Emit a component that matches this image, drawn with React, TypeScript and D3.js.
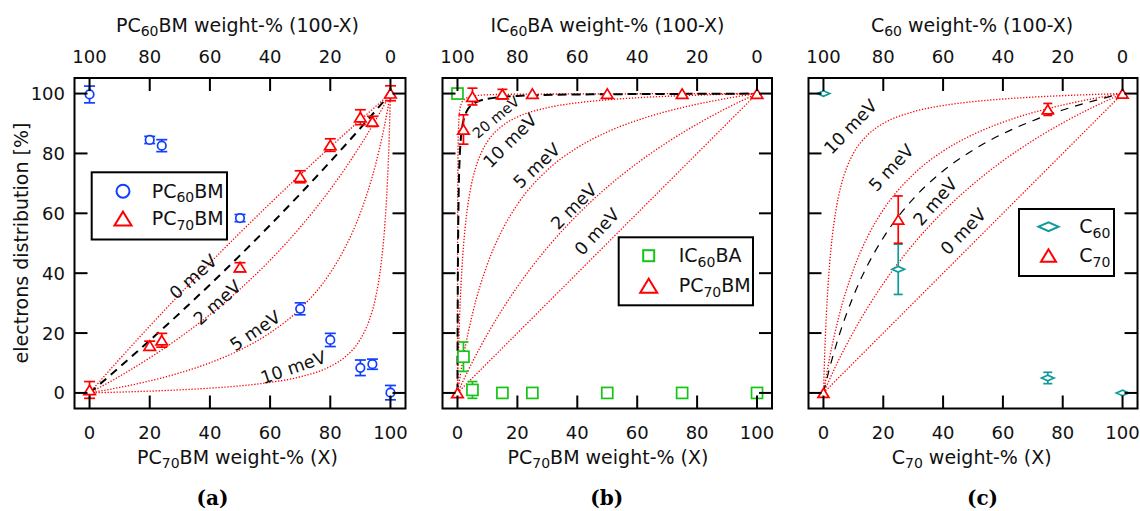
import React from 'react';
import * as d3 from 'd3';

// ---------- axis ticks ----------
const TICKS = [0, 20, 40, 60, 80, 100];
const BOTTOM_TICK_LABELS = ['0', '20', '40', '60', '80', '100'];
const TOP_TICK_LABELS = ['100', '80', '60', '40', '20', '0'];
const Y_TICK_LABELS = ['0', '20', '40', '60', '80', '100'];

// ---------- panel (a): PC60BM / PC70BM ----------
const A_X = [0, 20, 24, 50, 70, 80, 90, 94, 100];
const A_PC60_Y = [99.7, 84.5, 82.6, 58.4, 28.1, 17.7, 8.4, 9.6, 0.1];
const A_PC60_ERR = [2.8, 1.2, 2.0, 1.2, 2.0, 2.2, 2.6, 1.7, 2.4];
const A_PC70_Y = [1.0, 15.8, 17.6, 42.0, 72.2, 82.8, 92.1, 90.7, 100.1];
const A_PC70_ERR = [2.8, 1.5, 2.3, 1.5, 2.0, 2.1, 2.5, 1.7, 2.5];

const A_FIT: [number, number][] = [[0, 0], [10, 8.63], [20, 17.53], [30, 26.7], [40, 36.17], [50, 45.95], [60, 56.04], [70, 66.48], [80, 77.27], [90, 88.44], [100, 100]];
const A_0MEV: [number, number][] = [[0, 0], [10, 11.33], [20, 22.33], [30, 33.01], [40, 43.4], [50, 53.49], [60, 63.3], [70, 72.85], [80, 82.14], [90, 91.19], [100, 100]];
const A_2MEV: [number, number][] = [[0, 0], [10, 5.57], [20, 11.72], [30, 18.54], [40, 26.14], [50, 34.68], [60, 44.34], [70, 55.34], [80, 67.99], [85, 75.06], [90, 82.7], [95, 90.98], [100, 100]];
const A_5MEV: [number, number][] = [[0, 0], [10, 1.83], [20, 4.02], [30, 6.7], [40, 10.04], [50, 14.35], [60, 20.08], [70, 28.1], [80, 40.12], [85, 48.7], [90, 60.12], [95, 76.09], [98, 89.14], [100, 100]];
const A_10MEV: [number, number][] = [[0, 0], [10, 0.27], [20, 0.6], [30, 1.03], [40, 1.59], [50, 2.37], [60, 3.52], [70, 5.37], [80, 8.86], [85, 12.1], [90, 17.95], [93, 24.4], [95, 31.59], [97, 44.0], [98, 54.36], [99, 70.63], [99.5, 82.86], [100, 100]];

// ---------- panel (b): IC60BA / PC70BM ----------
const B_X = [0, 2, 5, 15, 25, 50, 75, 100];
const B_ICBA_Y = [100, 12.1, 1.0, 0, 0, 0, 0, 0];
const B_ICBA_ERR = [0, 4.9, 2.8, 0, 0, 0, 0, 0];
const B_PC70_Y = [0, 88.0, 99.0, 99.8, 100, 100, 100, 100];
const B_PC70_ERR = [0, 4.9, 2.8, 1.6, 0, 0, 0, 0];

const B_FIT: [number, number][] = [[0, 0], [0.05, 20.01], [0.1, 33.36], [0.2, 50.05], [0.4, 66.76], [0.7, 77.9], [1, 83.47], [1.5, 88.39], [2, 91.07], [3, 93.93], [5, 96.34], [10, 98.23], [20, 99.21], [40, 99.7], [70, 99.87], [100, 100]];
const B_0MEV: [number, number][] = [[0, 0], [50, 50], [100, 100]];
const B_2MEV: [number, number][] = [[0, 0], [5, 10.38], [10, 19.64], [20, 35.48], [30, 48.53], [40, 59.46], [50, 68.75], [60, 76.74], [70, 83.7], [80, 89.8], [90, 95.19], [100, 100]];
const B_5MEV: [number, number][] = [[0, 0], [2, 12.19], [5, 26.36], [10, 43.04], [15, 54.55], [20, 62.96], [30, 74.45], [40, 81.93], [50, 87.18], [60, 91.07], [70, 94.07], [80, 96.45], [90, 98.39], [100, 100]];
const B_10MEV: [number, number][] = [[0, 0], [0.25, 10.54], [0.5, 19.11], [1, 32.19], [1.5, 41.72], [2, 48.96], [3, 59.24], [4, 66.2], [6, 75.0], [8, 80.34], [10, 83.93], [15, 89.24], [20, 92.16], [30, 95.27], [40, 96.91], [50, 97.92], [60, 98.6], [70, 99.1], [80, 99.47], [90, 99.76], [100, 100]];
const B_20MEV: [number, number][] = [[0, 0], [0.01, 18.03], [0.02, 30.56], [0.05, 52.39], [0.1, 68.77], [0.2, 81.51], [0.5, 91.7], [1, 95.69], [2, 97.82], [5, 99.14], [10, 99.59], [20, 99.79], [50, 99.91], [100, 100]];

// ---------- panel (c): C60 / C70 ----------
const C_X = [0, 25, 75, 100];
const C_C60_Y = [100, 41.3, 5.0, 0];
const C_C60_ERR = [0, 8.4, 1.9, 0];
const C_C70_Y = [0, 57.9, 94.7, 100];
const C_C70_ERR = [0, 7.9, 2.0, 0];

const C_FIT: [number, number][] = [[0, 0], [2, 8.07], [5, 18.45], [10, 32.33], [15, 43.14], [20, 51.81], [30, 64.82], [40, 74.14], [50, 81.13], [60, 86.58], [70, 90.94], [80, 94.51], [90, 97.48], [100, 100]];
const C_0MEV: [number, number][] = [[0, 0], [50, 50], [100, 100]];
const C_2MEV: [number, number][] = [[0, 0], [5, 10.8], [10, 20.35], [20, 36.51], [30, 49.64], [40, 60.53], [50, 69.7], [60, 77.53], [70, 84.29], [80, 90.2], [90, 95.39], [100, 100]];
const C_5MEV: [number, number][] = [[0, 0], [2, 11.39], [5, 24.9], [10, 41.18], [15, 52.65], [20, 61.17], [30, 72.97], [40, 80.77], [50, 86.3], [60, 90.43], [70, 93.63], [80, 96.18], [90, 98.27], [100, 100]];
const C_10MEV: [number, number][] = [[0, 0], [0.5, 15.32], [1, 26.67], [2, 42.35], [3, 52.68], [4, 60.0], [6, 69.68], [8, 75.79], [10, 80.0], [15, 86.4], [20, 90.0], [30, 93.91], [40, 96.0], [50, 97.3], [60, 98.18], [70, 98.82], [80, 99.31], [90, 99.69], [100, 100]];

// ---------- styles / layout ----------
const FONT = "'DejaVu Sans', Verdana, sans-serif";
const BLUE = '#0f3fff';
const RED = '#ff0000';
const GREEN = '#16c416';
const TEAL = '#0e9b9b';

const TOP = 78;
const BOTTOM = 408.5;
const TICK_LEN = 13;

type Series = { x: number[]; y: number[]; err: number[]; color: string; marker: string; size: number; cap: number };
type LabelSpec = { text: string; x: number; y: number; rot: number; fs?: number };
type Title = { base: string; sub: string; rest: string; cx: number };
type LegendRow = { marker: string; color: string; size: number; base: string; sub: string; rest: string };

const PANELS = [
  {
    left: 74.5, right: 405.5, yLabels: true,
    top: { base: 'PC', sub: '60', rest: 'BM weight-% (100-X)', cx: 237.5 } as Title,
    bottom: { base: 'PC', sub: '70', rest: 'BM weight-% (X)', cx: 237.5 } as Title,
    caption: '(a)', captionX: 212.5,
    fit: A_FIT, fitW: 2, fitDash: '8,6',
    models: [A_0MEV, A_2MEV, A_5MEV, A_10MEV],
    series: [
      { x: A_X, y: A_PC60_Y, err: A_PC60_ERR, color: BLUE, marker: 'circle', size: 8.5, cap: 11 },
      { x: A_X, y: A_PC70_Y, err: A_PC70_ERR, color: RED, marker: 'triangle', size: 11.5, cap: 11 },
    ] as Series[],
    labels: [
      { text: '0 meV', x: 34.4, y: 38.8, rot: -42 },
      { text: '2 meV', x: 42.4, y: 30.2, rot: -42 },
      { text: '5 meV', x: 55.0, y: 20.8, rot: -34 },
      { text: '10 meV', x: 67.7, y: 8.6, rot: -19 },
    ] as LabelSpec[],
    legend: {
      x0: 91.7, y0: 172.3, x1: 227, y1: 239.5, mx: 123, tx: 151.7,
      rows: [
        { marker: 'circle', color: BLUE, size: 13, base: 'PC', sub: '60', rest: 'BM' },
        { marker: 'triangle', color: RED, size: 17, base: 'PC', sub: '70', rest: 'BM' },
      ] as LegendRow[],
      rowY: [191.2, 218.6],
    },
  },
  {
    left: 442.5, right: 772, yLabels: false,
    top: { base: 'IC', sub: '60', rest: 'BA weight-% (100-X)', cx: 607.5 } as Title,
    bottom: { base: 'PC', sub: '70', rest: 'BM weight-% (X)', cx: 608 } as Title,
    caption: '(b)', captionX: 606.7,
    fit: B_FIT, fitW: 2, fitDash: '9,5',
    models: [B_0MEV, B_2MEV, B_5MEV, B_10MEV, B_20MEV],
    series: [
      { x: B_X, y: B_ICBA_Y, err: B_ICBA_ERR, color: GREEN, marker: 'square', size: 11, cap: 10 },
      { x: B_X, y: B_PC70_Y, err: B_PC70_ERR, color: RED, marker: 'triangle', size: 11.5, cap: 10 },
    ] as Series[],
    labels: [
      { text: '20 meV', x: 12.8, y: 92.1, rot: -40, fs: 14.5 },
      { text: '10 meV', x: 17.5, y: 84.3, rot: -45 },
      { text: '5 meV', x: 26.4, y: 75.9, rot: -43 },
      { text: '2 meV', x: 38.8, y: 62.3, rot: -45 },
      { text: '0 meV', x: 46.5, y: 53.9, rot: -47 },
    ] as LabelSpec[],
    legend: {
      x0: 618.7, y0: 237.3, x1: 753, y1: 305.3, mx: 648.7, tx: 678.7,
      rows: [
        { marker: 'square', color: GREEN, size: 11, base: 'IC', sub: '60', rest: 'BA' },
        { marker: 'triangle', color: RED, size: 17, base: 'PC', sub: '70', rest: 'BM' },
      ] as LegendRow[],
      rowY: [255.7, 285.7],
    },
  },
  {
    left: 808.5, right: 1137.5, yLabels: false,
    top: { base: 'C', sub: '60', rest: ' weight-% (100-X)', cx: 972 } as Title,
    bottom: { base: 'C', sub: '70', rest: ' weight-% (X)', cx: 971.7 } as Title,
    caption: '(c)', captionX: 982.5,
    fit: C_FIT, fitW: 1.2, fitDash: '8,7',
    models: [C_0MEV, C_2MEV, C_5MEV, C_10MEV],
    series: [
      { x: C_X, y: C_C60_Y, err: C_C60_ERR, color: TEAL, marker: 'diamond', size: 12.5, cap: 9 },
      { x: C_X, y: C_C70_Y, err: C_C70_ERR, color: RED, marker: 'triangle', size: 11, cap: 9 },
    ] as Series[],
    labels: [
      { text: '10 meV', x: 9.0, y: 89.0, rot: -46 },
      { text: '5 meV', x: 22.6, y: 75.3, rot: -47 },
      { text: '2 meV', x: 37.3, y: 63.9, rot: -49 },
      { text: '0 meV', x: 46.7, y: 54.0, rot: -46 },
    ] as LabelSpec[],
    legend: {
      x0: 1019, y0: 209, x1: 1114, y1: 276, mx: 1048.5, tx: 1079.3,
      rows: [
        { marker: 'diamond', color: TEAL, size: 20, base: 'C', sub: '60', rest: '' },
        { marker: 'triangle', color: RED, size: 15, base: 'C', sub: '70', rest: '' },
      ] as LegendRow[],
      rowY: [226.7, 255.5],
    },
  },
];

function Marker({ type, cx, cy, size, color, sw = 1.7 }: { type: string; cx: number; cy: number; size: number; color: string; sw?: number }) {
  const common = { fill: 'white', stroke: color, strokeWidth: sw };
  if (type === 'circle') return <circle cx={cx} cy={cy} r={size / 2} {...common} />;
  if (type === 'square') return <rect x={cx - size / 2} y={cy - size / 2} width={size} height={size} {...common} />;
  if (type === 'diamond') {
    const w = size / 2, h = size * 0.22;
    return <polygon points={`${cx - w},${cy} ${cx},${cy - h} ${cx + w},${cy} ${cx},${cy + h}`} {...common} />;
  }
  const w = size / 2, h = size * 0.41;
  return <polygon points={`${cx},${cy - h} ${cx - w},${cy + h} ${cx + w},${cy + h}`} {...common} strokeLinejoin="miter" />;
}

function SubText({ x, y, base, sub, rest, fs, anchor = 'middle' }: { x: number; y: number; base: string; sub: string; rest: string; fs: number; anchor?: string }) {
  const subFs = Math.round(fs * 0.72);
  const dy = fs * 0.24;
  return (
    <text x={x} y={y} fontFamily={FONT} fontSize={fs} textAnchor={anchor as any} fill="#111">
      <tspan>{base}</tspan>
      <tspan fontSize={subFs} dy={dy}>{sub}</tspan>
      <tspan dy={-dy}>{rest}</tspan>
    </text>
  );
}

function Panel({ p }: { p: (typeof PANELS)[number] }) {
  const x = d3.scaleLinear().domain([-5, 105]).range([p.left, p.right]);
  const y = d3.scaleLinear().domain([-5.2, 105.2]).range([BOTTOM, TOP]);
  const line = d3.line<[number, number]>().x(d => x(d[0])).y(d => y(d[1])).curve(d3.curveMonotoneX);
  const tickStyle = { stroke: '#000', strokeWidth: 2 };
  return (
    <g>
      {p.models.map((m, i) => (
        <path key={'m' + i} d={line(m) || ''} fill="none" stroke={RED} strokeWidth={1.3} strokeDasharray="1.3,1.7" />
      ))}
      <path d={line(p.fit) || ''} fill="none" stroke="#000" strokeWidth={p.fitW} strokeDasharray={p.fitDash} />
      {p.labels.map((l, i) => (
        <text key={'l' + i} transform={`translate(${x(l.x)},${y(l.y)}) rotate(${l.rot})`} textAnchor="middle" dy="0.36em"
          fontFamily={FONT} fontSize={l.fs || 17.5} fill="#111">{l.text}</text>
      ))}
      {p.series.map((s, si) => (
        <g key={'s' + si}>
          {s.x.map((xv, i) => s.err[i] > 0 ? (
            <g key={'e' + i} stroke={s.color} strokeWidth={1.7}>
              <line x1={x(xv)} x2={x(xv)} y1={y(s.y[i] - s.err[i])} y2={y(s.y[i] + s.err[i])} />
              <line x1={x(xv) - s.cap / 2} x2={x(xv) + s.cap / 2} y1={y(s.y[i] - s.err[i])} y2={y(s.y[i] - s.err[i])} />
              <line x1={x(xv) - s.cap / 2} x2={x(xv) + s.cap / 2} y1={y(s.y[i] + s.err[i])} y2={y(s.y[i] + s.err[i])} />
            </g>
          ) : null)}
          {s.x.map((xv, i) => (
            <Marker key={'k' + i} type={s.marker} cx={x(xv)} cy={y(s.y[i])} size={s.size} color={s.color} />
          ))}
        </g>
      ))}
      <rect x={p.left} y={TOP} width={p.right - p.left} height={BOTTOM - TOP} fill="none" stroke="#000" strokeWidth={2} />
      {TICKS.map((t, i) => (
        <g key={'t' + i}>
          <line x1={x(t)} x2={x(t)} y1={BOTTOM} y2={BOTTOM - TICK_LEN} {...tickStyle} />
          <line x1={x(t)} x2={x(t)} y1={TOP} y2={TOP + TICK_LEN} {...tickStyle} />
          <line x1={p.left} x2={p.left + TICK_LEN} y1={y(t)} y2={y(t)} {...tickStyle} />
          <line x1={p.right} x2={p.right - TICK_LEN} y1={y(t)} y2={y(t)} {...tickStyle} />
          <text x={x(t)} y={438.5} textAnchor="middle" fontFamily={FONT} fontSize={18} fill="#111">{BOTTOM_TICK_LABELS[i]}</text>
          <text x={x(t)} y={63.3} textAnchor="middle" fontFamily={FONT} fontSize={18} fill="#111">{TOP_TICK_LABELS[i]}</text>
          {p.yLabels ? (
            <text x={65} y={y(t) + 6.5} textAnchor="end" fontFamily={FONT} fontSize={18} fill="#111">{Y_TICK_LABELS[i]}</text>
          ) : null}
        </g>
      ))}
      <SubText x={p.top.cx} y={31.5} base={p.top.base} sub={p.top.sub} rest={p.top.rest} fs={19} />
      <SubText x={p.bottom.cx} y={463.5} base={p.bottom.base} sub={p.bottom.sub} rest={p.bottom.rest} fs={19} />
      <text x={p.captionX} y={505} textAnchor="middle" fontFamily="'DejaVu Serif', serif" fontWeight="bold" fontSize={20} fill="#000">{p.caption}</text>
      <rect x={p.legend.x0} y={p.legend.y0} width={p.legend.x1 - p.legend.x0} height={p.legend.y1 - p.legend.y0} fill="white" stroke="#000" strokeWidth={2} />
      {p.legend.rows.map((r, i) => (
        <g key={'lg' + i}>
          <Marker type={r.marker} cx={p.legend.mx} cy={p.legend.rowY[i]} size={r.size} color={r.color} sw={2} />
          <SubText x={p.legend.tx} y={p.legend.rowY[i] + 6.5} base={r.base} sub={r.sub} rest={r.rest} fs={19} anchor="start" />
        </g>
      ))}
    </g>
  );
}

export default function App() {
  return (
    <div style={{ position: 'fixed', left: 0, top: 0, width: 1140, height: 511, background: 'white' }}>
      <svg width={1140} height={511} viewBox="0 0 1140 511" style={{ display: 'block' }}>
        <rect x={0} y={0} width={1140} height={511} fill="white" />
        {PANELS.map((p, i) => <Panel key={i} p={p} />)}
        <text transform="translate(21,243) rotate(-90)" textAnchor="middle" dy="0.35em" fontFamily={FONT} fontSize={19} fill="#111">electrons distribution [%]</text>
      </svg>
    </div>
  );
}
